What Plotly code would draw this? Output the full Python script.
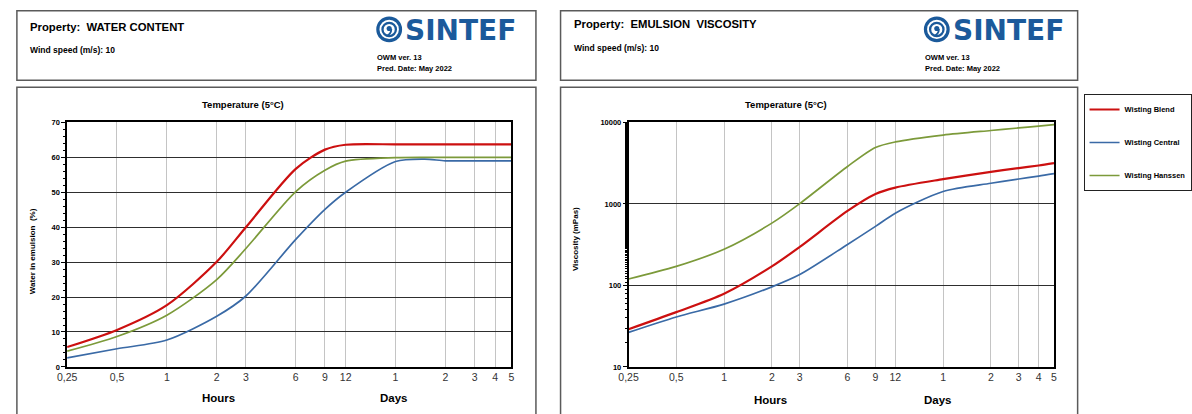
import math
import plotly.graph_objects as go

# ---- data -------------------------------------------------------------
SERIES = ["Wisting Blend", "Wisting Central", "Wisting Hanssen"]
COLORS = ["#cc1010", "#3a6aa6", "#7c9a3a"]
WIDTHS = [2.2, 1.7, 1.7]

# time in hours
T_WATER = [0.25, 0.5, 1, 2, 3, 6, 9, 12, 24, 36, 48, 72, 96, 120]
WATER_BLEND = [5.7, 10.6, 17.7, 30.1, 40.0, 56.7, 62.2, 63.6, 63.7, 63.7, 63.7, 63.7, 63.7, 63.7]
WATER_CENTRAL = [2.6, 5.2, 7.7, 14.5, 20.3, 36.5, 45.1, 50.0, 58.8, 59.5, 59.0, 59.0, 59.0, 59.0]
WATER_HANSSEN = [4.5, 8.7, 14.8, 25.0, 33.9, 50.2, 56.3, 58.9, 59.9, 60.0, 60.0, 60.0, 60.0, 60.0]

T_VISC = [0.25, 0.5, 1, 2, 3, 6, 9, 12, 24, 48, 72, 96, 120]
VISC_BLEND = [29, 47, 79, 171, 297, 820, 1320, 1585, 2010, 2470, 2750, 2960, 3160]
VISC_CENTRAL = [26.5, 41, 59, 96, 136, 318, 530, 770, 1420, 1790, 2020, 2190, 2350]
VISC_HANSSEN = [120, 171, 278, 581, 1009, 2880, 4920, 5754, 6980, 7950, 8550, 9000, 9370]

X_TICKVALS = [0.25, 0.5, 1, 2, 3, 6, 9, 12, 24, 48, 72, 96, 120]
X_TICKTEXT = ["0,25", "0,5", "1", "2", "3", "6", "9", "12", "1", "2", "3", "4", "5"]
WATER_TICKS = [0, 10, 20, 30, 40, 50, 60, 70]
VISC_TICKS = [10, 100, 1000, 10000]

# ---- page geometry (pixels) ---------------------------------------------
W, H = 1192, 414
FONT = "Liberation Sans, Arial, sans-serif"


def fx(x):
    return x / W


def fy(y):
    return 1 - y / H


fig = go.Figure()

water = [WATER_BLEND, WATER_CENTRAL, WATER_HANSSEN]
visc = [VISC_BLEND, VISC_CENTRAL, VISC_HANSSEN]
for i, name in enumerate(SERIES):
    fig.add_trace(go.Scatter(
        x=T_WATER, y=water[i], mode="lines", name=name, legendgroup=name,
        showlegend=False, line=dict(color=COLORS[i], width=WIDTHS[i], shape="spline", smoothing=0.8),
        xaxis="x", yaxis="y"))
for i, name in enumerate(SERIES):
    fig.add_trace(go.Scatter(
        x=T_VISC, y=visc[i], mode="lines", name=name, legendgroup=name,
        showlegend=True, line=dict(color=COLORS[i], width=WIDTHS[i], shape="spline", smoothing=0.8),
        xaxis="x2", yaxis="y2"))

xcommon = dict(
    type="log", range=[math.log10(0.25), math.log10(120)],
    tickmode="array", tickvals=X_TICKVALS, ticktext=X_TICKTEXT,
    showgrid=True, gridcolor="#c4c4c4", gridwidth=1.2,
    showline=True, linecolor="#000000", linewidth=1.5, mirror=True,
    ticks="", tickfont=dict(family=FONT, size=10.5, color="#333333"),
    zeroline=False,
)
ycommon = dict(
    showgrid=True, gridcolor="#2e2e2e", gridwidth=1.2,
    showline=True, linecolor="#000000", linewidth=1.5, mirror=True,
    ticks="outside", ticklen=4, tickcolor="#000000",
    tickfont=dict(family=FONT, size=7.5, color="#000000", weight="bold"),
    zeroline=False,
)

fig.update_layout(
    width=W, height=H, margin=dict(l=0, r=0, t=0, b=0),
    paper_bgcolor="white", plot_bgcolor="white",
    xaxis=dict(domain=[fx(58), fx(509)], anchor="y", **xcommon),
    yaxis=dict(domain=[fy(371), fy(121)], anchor="x", range=[0, 70],
               tickmode="array", tickvals=WATER_TICKS,
               minor=dict(ticks="outside", ticklen=2, dtick=2, tickcolor="#000000", showgrid=False),
               **ycommon),
    xaxis2=dict(domain=[fx(628), fx(1060)], anchor="y2", **xcommon),
    yaxis2=dict(domain=[fy(371), fy(121)], anchor="x2", type="log", range=[1, 4],
                tickmode="array", tickvals=VISC_TICKS, ticktext=[str(v) for v in VISC_TICKS],
                minor=dict(ticks="outside", ticklen=2, tickcolor="#000000", showgrid=False),
                **ycommon),
    legend=dict(x=fx(1090), y=fy(92), xanchor="left", yanchor="top",
                bordercolor="#222222", borderwidth=1, bgcolor="white",
                font=dict(family=FONT, size=7.5, color="#000000", weight="bold"),
                itemwidth=30, tracegroupgap=14, traceorder="grouped"),
    showlegend=True,
)

# ---- frames ---------------------------------------------------------------
shapes = []


def box(x0, y0, x1, y1):
    shapes.append(dict(type="rect", xref="paper", yref="paper",
                       x0=fx(x0), x1=fx(x1), y0=fy(y1), y1=fy(y0),
                       line=dict(color="#5a5a5a", width=1.5), fillcolor="rgba(0,0,0,0)", layer="below"))


box(7, 7, 534, 78)
box(7, 85, 534, 430)
box(559, 7, 1084, 78)
box(559, 85, 1084, 430)

LOGO_BLUE = "#1b5a9b"


def logo(cx, cy, tx):
    # ring emblem
    for r, w in [(11.5, 3.2), (6.8, 2.3)]:
        shapes.append(dict(type="circle", xref="paper", yref="paper",
                           x0=fx(cx - r), x1=fx(cx + r), y0=fy(cy + r), y1=fy(cy - r),
                           line=dict(color=LOGO_BLUE, width=w), fillcolor="rgba(0,0,0,0)"))
    shapes.append(dict(type="circle", xref="paper", yref="paper",
                       x0=fx(cx - 2.6), x1=fx(cx + 2.6), y0=fy(cy + 1.6), y1=fy(cy - 3.6),
                       line=dict(color=LOGO_BLUE, width=0), fillcolor=LOGO_BLUE))
    path = "M {:.5f},{:.5f} Q {:.5f},{:.5f} {:.5f},{:.5f}".format(
        fx(cx + 2.2), fy(cy - 0.5), fx(cx + 2.0), fy(cy + 4.5), fx(cx - 2.5), fy(cy + 6.5))
    shapes.append(dict(type="path", xref="paper", yref="paper", path=path,
                       line=dict(color=LOGO_BLUE, width=1.8)))
    return dict(x=fx(tx), y=fy(cy + 1), xref="paper", yref="paper", text="SINTEF",
                showarrow=False, xanchor="left", yanchor="middle",
                font=dict(family="DejaVu Sans", size=28, color=LOGO_BLUE, weight="bold"))


ann = []


def text(t, x, y, size, bold=True, xanchor="left", angle=0, color="#000000"):
    ann.append(dict(x=fx(x), y=fy(y), xref="paper", yref="paper", text=t, showarrow=False,
                    xanchor=xanchor, yanchor="middle", textangle=angle,
                    font=dict(family=FONT, size=size, color=color, weight="bold" if bold else "normal")))


# left header
text("Property:\u00a0 WATER CONTENT", 18, 23, 11.3)
text("Wind speed (m/s): 10", 18, 47, 8.5)
ann.append(logo(385, 26, 399))
text("OWM ver. 13", 371, 55, 7.5)
text("Pred. Date: May 2022", 371, 66, 7.5)

# right header
text("Property:\u00a0 EMULSION\u00a0 VISCOSITY", 571, 20, 11.3)
text("Wind speed (m/s): 10", 571, 45, 8.5)
ann.append(logo(941, 26, 955))
text("OWM ver. 13", 927, 55, 7.5)
text("Pred. Date: May 2022", 927, 66, 7.5)

# chart titles and axis captions
text("Temperature (5°C)", 237, 103, 9.5, xanchor="center")
text("Temperature (5°C)", 788, 103, 9.5, xanchor="center")
text("Water in emulsion\u00a0 (%)", 23, 253, 8, xanchor="center", angle=-90)
text("Viscosity (mPas)", 574, 240, 8, xanchor="center", angle=-90)
text("Hours", 212, 403, 11.5, xanchor="center")
text("Days", 390, 403, 11.5, xanchor="center")
text("Hours", 772, 405, 11.5, xanchor="center")
text("Days", 942, 405, 11.5, xanchor="center")

fig.update_layout(shapes=shapes, annotations=ann)

fig.write_html("out.html")
